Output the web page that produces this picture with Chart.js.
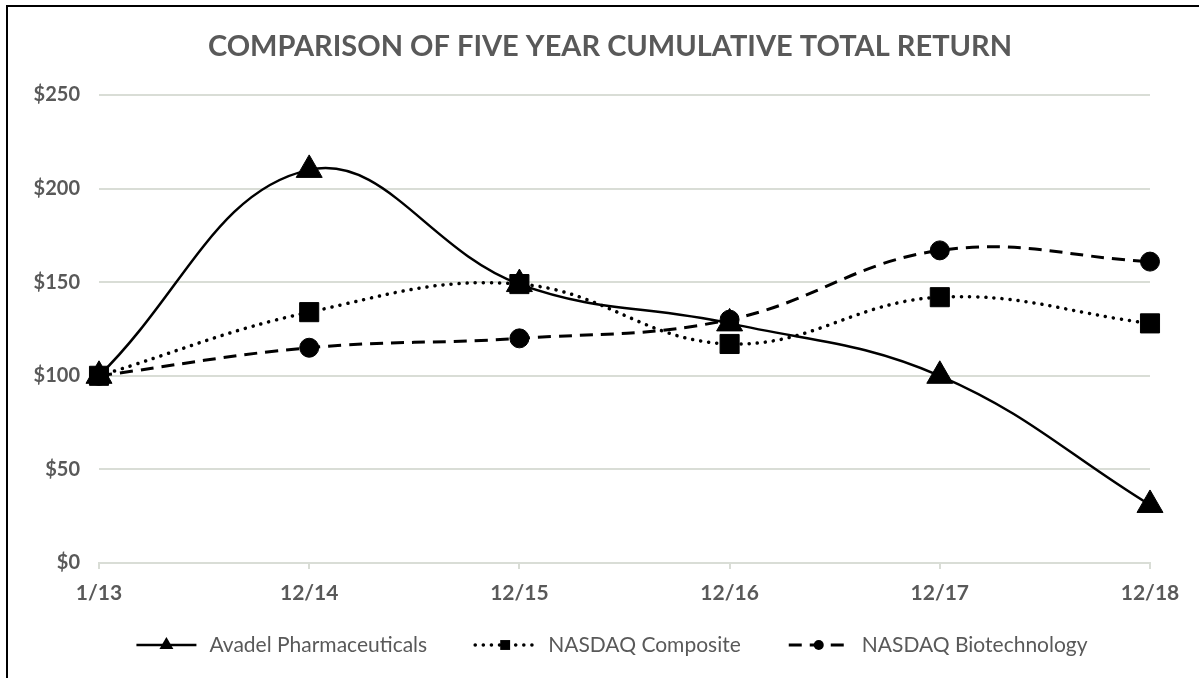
<!DOCTYPE html>
<html>
<head>
<meta charset="utf-8">
<script src="https://cdn.jsdelivr.net/npm/chart.js@4/dist/chart.umd.min.js"></script>
<style>
  html, body { margin: 0; padding: 0; background: #fff; }
  .wrap { position: relative; width: 1199px; height: 678px; overflow: hidden; }
  .frame { position: absolute; left: 6px; top: 5px; right: -10px; bottom: -10px;
           border-left: 2px solid #000; border-top: 2px solid #000; pointer-events: none; }
  canvas { position: absolute; left: 0; top: 0; }
</style>
</head>
<body>
<div class="wrap">
  <canvas id="chart" width="1199" height="678"></canvas>
  <div class="frame"></div>
</div>
<script>
const title = "COMPARISON OF FIVE YEAR CUMULATIVE TOTAL RETURN";
const periods = ["1/13", "12/14", "12/15", "12/16", "12/17", "12/18"];
const avadel = [100, 210, 149, 128, 100, 31];
const nasdaqComposite = [100, 134, 149, 117, 142, 128];
const nasdaqBiotech = [100, 115, 120, 130, 167, 161];
const yTicks = [0, 50, 100, 150, 200, 250];

const grey = "#595959";
const gridColor = "#d9ddd6";
const font = "Lato, 'Open Sans', sans-serif";

// marker drawn by hand so legend and points look alike
const drawMarker = (ctx, style, x, y, r) => {
  ctx.beginPath();
  if (style === "triangle") {
    ctx.moveTo(x, y - r);
    ctx.lineTo(x + r * 0.87, y + r * 0.5);
    ctx.lineTo(x - r * 0.87, y + r * 0.5);
    ctx.closePath();
  } else if (style === "rect") {
    const s = r * Math.SQRT1_2;
    ctx.rect(x - s, y - s, 2 * s, 2 * s);
  } else {
    ctx.arc(x, y, r, 0, Math.PI * 2);
  }
  ctx.fillStyle = "#000";
  ctx.fill();
};

// title + legend with line samples, like the office chart
const decorations = {
  id: "decorations",
  afterDraw: chart => {
    const ctx = chart.ctx;
    ctx.save();
    ctx.fillStyle = grey;
    ctx.textAlign = "center";
    ctx.textBaseline = "middle";
    ctx.font = "bold 29px " + font;
    ctx.fillText(title, 610, 47);

    const y = 645;
    const lineLen = 60, textGap = 13, itemGap = 48;
    ctx.textAlign = "left";
    ctx.font = "21px " + font;
    const items = chart.data.datasets.map(ds => ({
      ds,
      w: lineLen + textGap + ctx.measureText(ds.label).width
    }));
    const total = items.reduce((s, it) => s + it.w, 0) + itemGap * (items.length - 1);
    let x = 612 - total / 2;
    items.forEach(({ ds, w }) => {
      ctx.strokeStyle = "#000";
      ctx.lineWidth = ds.borderWidth;
      ctx.lineCap = ds.borderCapStyle || "butt";
      ctx.setLineDash(ds.borderDash || []);
      ctx.beginPath();
      ctx.moveTo(x, y);
      ctx.lineTo(x + lineLen, y);
      ctx.stroke();
      ctx.setLineDash([]);
      drawMarker(ctx, ds.pointStyle, x + lineLen / 2, y, ds.legendRadius);
      ctx.fillStyle = grey;
      ctx.fillText(ds.label, x + lineLen + textGap, y);
      x += w + itemGap;
    });
    ctx.restore();
  }
};

new Chart("chart", {
  type: "line",
  data: {
    labels: periods,
    datasets: [
      {
        label: "Avadel Pharmaceuticals",
        data: avadel,
        borderColor: "#000",
        backgroundColor: "#000",
        borderWidth: 2.5,
        pointStyle: "triangle",
        pointRadius: 15,
        pointBorderWidth: 1,
        legendRadius: 8
      },
      {
        label: "NASDAQ Composite",
        data: nasdaqComposite,
        borderColor: "#000",
        backgroundColor: "#000",
        borderWidth: 3.5,
        borderDash: [0.1, 8],
        borderCapStyle: "round",
        pointStyle: "rect",
        pointRadius: 13.5,
        pointBorderWidth: 1,
        legendRadius: 7
      },
      {
        label: "NASDAQ Biotechnology",
        data: nasdaqBiotech,
        borderColor: "#000",
        backgroundColor: "#000",
        borderWidth: 3,
        borderDash: [13, 8],
        pointStyle: "circle",
        pointRadius: 9.5,
        pointBorderWidth: 1,
        legendRadius: 5
      }
    ]
  },
  options: {
    responsive: false,
    animation: false,
    layout: { padding: { left: 0, right: 49, top: 95, bottom: 65 } },
    elements: { line: { tension: 0.4 } },
    plugins: {
      legend: { display: false },
      tooltip: { enabled: false },
      title: { display: false }
    },
    scales: {
      x: {
        offset: false,
        grid: { display: true, drawOnChartArea: false, drawTicks: true, tickLength: 6, color: gridColor, lineWidth: 2 },
        border: { display: true, color: gridColor, width: 2 },
        ticks: { color: grey, padding: 12, font: { family: font, size: 21, weight: "bold" }, maxRotation: 0 },
        afterFit: scale => { scale.height = 50; }
      },
      y: {
        min: 0,
        max: 250,
        afterBuildTicks: scale => { scale.ticks = yTicks.map(v => ({ value: v })); },
        grid: { color: gridColor, lineWidth: 2, drawTicks: false },
        border: { display: false },
        ticks: {
          color: grey,
          padding: 19,
          font: { family: font, size: 20, weight: "bold" },
          callback: v => "$" + v
        },
        afterFit: scale => { scale.width = 99; }
      }
    }
  },
  plugins: [decorations]
});
</script>
</body>
</html>
